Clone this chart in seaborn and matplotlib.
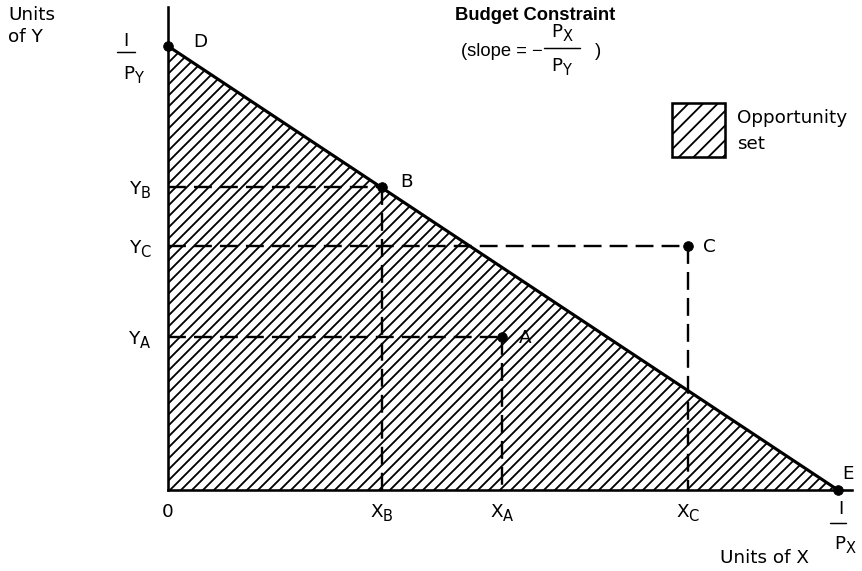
import numpy as np
import pandas as pd
import seaborn as sns
import matplotlib.pyplot as plt
import matplotlib._mathtext as mt
from matplotlib.lines import Line2D
from matplotlib.patches import Rectangle

# 预算线两端截距 (I/Px, I/Py) 和三个消费组合
x_intercept = 10.0
y_intercept = 10.0
point_names = ['A', 'B', 'C']
point_x = [4.99, 3.19, 7.76]
point_y = [3.45, 6.82, 5.50]
x_tick_labels = ['0', r'$\mathregular{X_B}$', r'$\mathregular{X_A}$', r'$\mathregular{X_C}$']
y_tick_labels = [r'$\mathregular{Y_B}$', r'$\mathregular{Y_C}$', r'$\mathregular{Y_A}$']

# 下标大一点、低一点（接近原图）
mt.SHRINK_FACTOR = 0.8
mt.FontConstantsBase.sub1 = 0.45
mt.FontConstantsBase.sub2 = 0.55

sns.set_theme(style='white')
plt.rcParams['font.family'] = ['DejaVu Sans']
plt.rcParams['hatch.linewidth'] = 1.0
plt.rcParams['text.color'] = 'black'
plt.rcParams['xtick.color'] = 'black'
plt.rcParams['ytick.color'] = 'black'

DPI = 132
W, H = 862, 571
FS = 10
K = 72 / DPI  # 像素 -> 点


def fp(x, y):
    # 以左上角为原点的像素 -> figure 坐标
    return x / W, 1 - y / H


fig = plt.figure(figsize=(W / DPI, H / DPI), dpi=DPI)
ax = fig.add_axes([168 / W, 81 / H, (852 - 168) / W, (490 - 7) / H])
ax.set_xlim(0, 10.21)
ax.set_ylim(0, 10.88)

budget = pd.DataFrame({'x': [0, x_intercept], 'y': [y_intercept, 0]})

# 机会集（阴影三角形）
ax.fill_between(budget['x'], budget['y'], 0, facecolor='white', edgecolor='black',
                hatch='////', linewidth=0, zorder=1)

# 预算线
sns.lineplot(data=budget, x='x', y='y', color='black', linewidth=1.7, ax=ax, zorder=3)

# 虚线
dash = (0, (7.5, 3.4))
for px, py in zip(point_x, point_y):
    ax.plot([0, px], [py, py], color='black', lw=1.3, linestyle=dash, zorder=2)
    ax.plot([px, px], [py, 0], color='black', lw=1.3, linestyle=dash, zorder=2)

# 点
pts = pd.DataFrame({'name': point_names + ['D', 'E'],
                    'x': point_x + [0, x_intercept],
                    'y': point_y + [y_intercept, 0]})
sns.scatterplot(data=pts, x='x', y='y', color='black', s=28, edgecolor='black',
                ax=ax, zorder=4, clip_on=False)

offsets = {'A': (23, -1), 'B': (25, 5), 'C': (22, -1), 'D': (32, 4), 'E': (10, 16)}
for _, r in pts.iterrows():
    dx, dy = offsets[r['name']]
    ax.annotate(r['name'], (r['x'], r['y']), xytext=(dx * K, dy * K),
                textcoords='offset points', ha='center', va='center', fontsize=FS)

# 坐标轴
ax.set_xticks([0, point_x[1], point_x[0], point_x[2]])
ax.set_xticklabels(x_tick_labels)
ax.set_yticks([point_y[1], point_y[2], point_y[0]])
ax.set_yticklabels(y_tick_labels)
ax.tick_params(axis='both', length=0, labelsize=FS)
ax.tick_params(axis='x', pad=7)
ax.tick_params(axis='y', pad=9)
ax.set_xlabel('')
ax.set_ylabel('')
for s in ['top', 'right']:
    ax.spines[s].set_visible(False)
for s in ['left', 'bottom']:
    ax.spines[s].set_color('black')
    ax.spines[s].set_linewidth(1.4)


def fraction(cx, by, num, den, half, num_dx=0, num_gap=3, den_dx=0, den_gap=11):
    # cx, by: 分数线中心（左上角原点像素）
    fig.add_artist(Line2D([(cx - half) / W, (cx + half) / W], [1 - by / H] * 2,
                          transform=fig.transFigure, color='black', lw=0.8))
    fig.text(*fp(cx + num_dx, by - num_gap), num, fontsize=FS, ha='center', va='bottom')
    fig.text(*fp(cx + den_dx, by + den_gap), den, fontsize=FS, ha='center', va='top')


def to_px(x, y):
    # 数据坐标 -> 左上角原点像素
    dx, dy = ax.transData.transform((x, y))
    return dx, H - dy


# 截距标签 I/Py, I/Px
dxp, dyp = to_px(0, y_intercept)
fraction(dxp - 42, dyp + 6, 'I', r'$\mathregular{P_Y}$', 9, num_dx=0, num_gap=2,
         den_dx=8, den_gap=12)
exp_, eyp = to_px(x_intercept, 0)
fraction(exp_, eyp + 33, 'I', r'$\mathregular{P_X}$', 8, num_dx=3, num_gap=5,
         den_dx=7, den_gap=11)

# 文字
fig.text(*fp(8, 6), 'Units\nof Y', fontsize=FS, ha='left', va='top', linespacing=1.3)
fig.text(*fp(764, 558), 'Units of X', fontsize=FS, ha='center', va='center')
fig.text(*fp(535, 15), 'Budget Constraint', fontsize=FS, fontweight='bold',
         family='Liberation Sans', ha='center', va='center')
fig.text(*fp(543, 51), '(slope = \u2212', fontsize=FS, family='Liberation Sans',
         ha='right', va='center')
fraction(562, 48, r'$\mathregular{P_X}$', r'$\mathregular{P_Y}$', 18, num_dx=0, num_gap=4,
         den_dx=0, den_gap=9)
fig.text(*fp(595, 51), ')', fontsize=FS, family='Liberation Sans', ha='left', va='center')

# 图例（机会集）
lx0, ly0 = fp(672, 157)
fig.add_artist(Rectangle((lx0, ly0), 53 / W, 54 / H, transform=fig.transFigure,
                         facecolor='white', edgecolor='black', hatch='///', lw=1.4))
fig.text(*fp(737, 118), 'Opportunity', fontsize=FS, ha='left', va='center')
fig.text(*fp(737, 144), 'set', fontsize=FS, ha='left', va='center')

fig.savefig('out.png', dpi=DPI)
